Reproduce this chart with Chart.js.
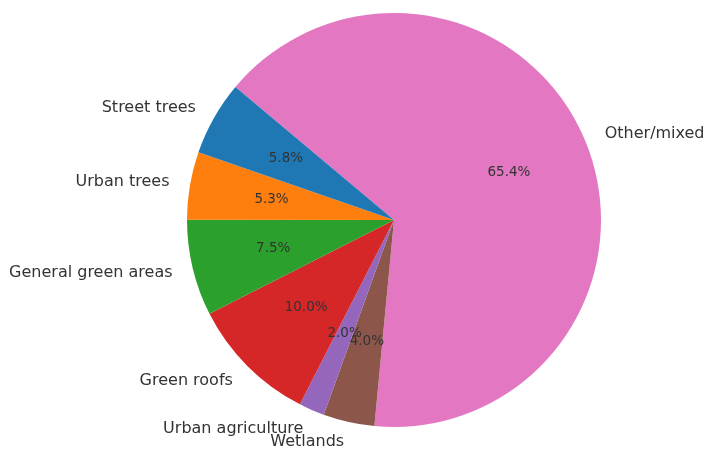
<!DOCTYPE html>
<html>
<head>
<meta charset="utf-8">
<script src="https://cdn.jsdelivr.net/npm/chart.js@4"></script>
<style>
  html, body { margin: 0; padding: 0; background: #fff; }
  #wrap { width: 704px; height: 449px; }
</style>
</head>
<body>
<div id="wrap"><canvas id="myChart" width="704" height="449"></canvas></div>
<script>
// Data (matplotlib order, counterclockwise from 140 deg)
const categories = ['Street trees', 'Urban trees', 'General green areas', 'Green roofs', 'Urban agriculture', 'Wetlands', 'Other/mixed'];
const shares = [5.8, 5.3, 7.5, 10.0, 2.0, 4.0, 65.4];
const sliceColors = ['#1f77b4', '#ff7f0e', '#2ca02c', '#d62728', '#9467bd', '#8c564b', '#e377c2'];

// Chart.js goes clockwise, so reverse the order
const labelsCw = categories.slice().reverse();
const valuesCw = shares.slice().reverse();
const colorsCw = sliceColors.slice().reverse();

// Draw outside labels and percentages like matplotlib's autopct
const pieText = {
    id: 'pieText',
    afterDatasetsDraw(chart) {
        const ctx = chart.ctx;
        const meta = chart.getDatasetMeta(0);
        const total = valuesCw.reduce((a, b) => a + b, 0);
        ctx.save();
        ctx.textBaseline = 'middle';
        meta.data.forEach((arc, i) => {
            const p = arc.getProps(['x', 'y', 'startAngle', 'endAngle', 'outerRadius'], true);
            const mid = (p.startAngle + p.endAngle) / 2;
            const cx = Math.cos(mid), cy = Math.sin(mid);

            // percentage at 0.6 r
            ctx.font = '13.5px "DejaVu Sans"';
            ctx.fillStyle = '#333333';
            ctx.textAlign = 'center';
            const pct = (valuesCw[i] / total * 100).toFixed(1) + '%';
            ctx.fillText(pct, p.x + cx * p.outerRadius * 0.6, p.y + cy * p.outerRadius * 0.6);

            // category label at 1.1 r
            ctx.font = '16px "DejaVu Sans"';
            ctx.textAlign = cx >= 0 ? 'left' : 'right';
            ctx.fillText(labelsCw[i], p.x + cx * p.outerRadius * 1.1, p.y + cy * p.outerRadius * 1.1);
        });
        ctx.restore();
    }
};

const ctx = document.getElementById('myChart').getContext('2d');
const myChart = new Chart(ctx, {
    type: 'pie',
    data: {
        labels: labelsCw,
        datasets: [{
            data: valuesCw,
            backgroundColor: colorsCw,
            borderWidth: 0
        }]
    },
    options: {
        responsive: false,
        animation: false,
        rotation: -50,
        layout: {
            padding: { left: 187, right: 103, top: 13, bottom: 22 }
        },
        plugins: {
            legend: { display: false },
            tooltip: { enabled: false }
        }
    },
    plugins: [pieText]
});
</script>
</body>
</html>
